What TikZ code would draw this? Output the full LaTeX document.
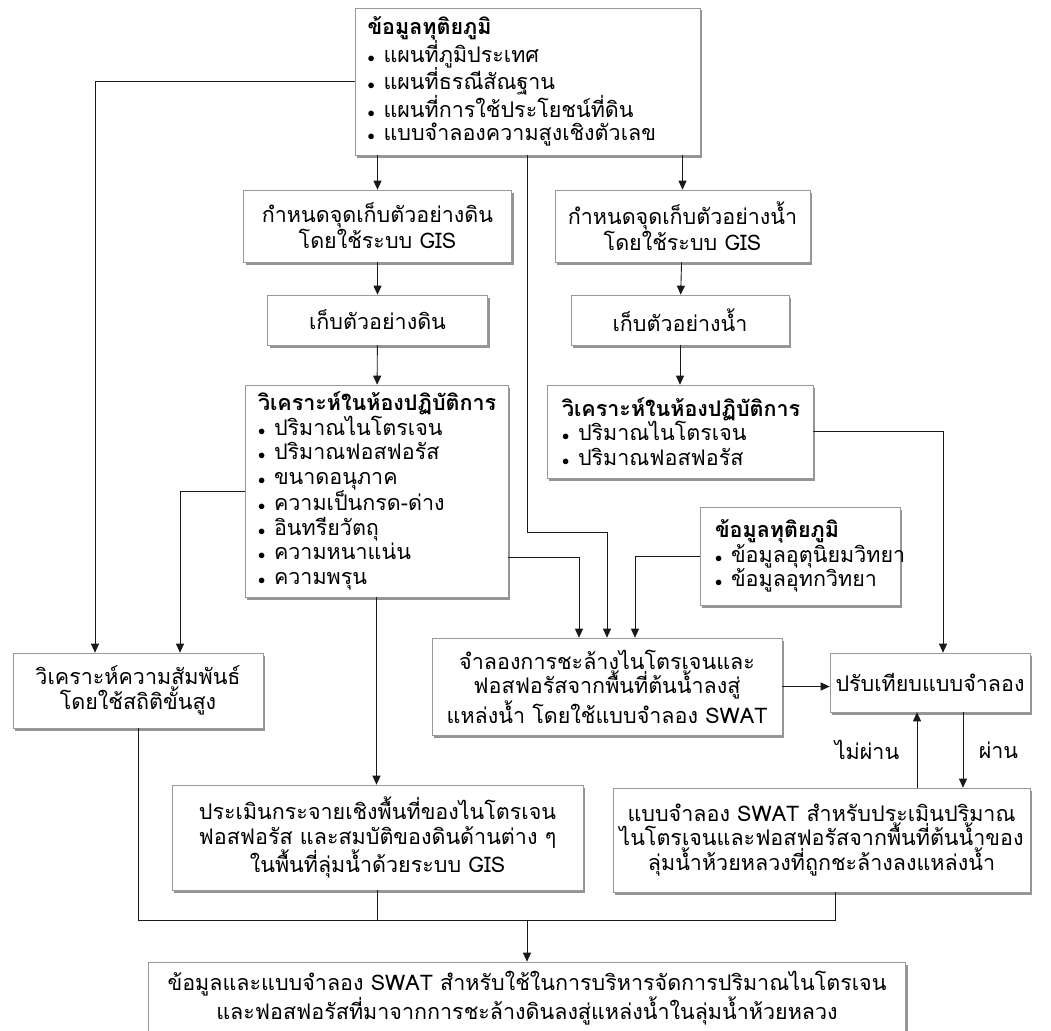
\documentclass[tikz,border=0pt]{standalone}
\usepackage{fontspec}
\newfontfamily\thaifont[Script=Thai]{Loma}
\usepackage{tikz}
\usetikzlibrary{arrows.meta, positioning, shadows}
\newcommand{\bul}{\makebox[16pt][l]{\fontsize{15}{15}\selectfont$\bullet$}}

\begin{document}
\begin{tikzpicture}[x=1pt, y=-1pt,
    box/.style={draw=black!40, fill=white, line width=0.6pt,
      drop shadow={shadow xshift=2pt, shadow yshift=-2.5pt, fill=black!60, opacity=0.7},
      font=\thaifont\fontsize{21.5}{24.5}\selectfont, align=center, inner sep=0pt},
    listbox/.style={box, align=left, inner ysep=0pt},
    wire/.style={draw=black!90, line width=0.9pt},
    arr/.style={wire, -{Triangle[length=9pt, width=8pt]}},
    tag/.style={font=\thaifont\fontsize{21.5}{24}\selectfont}]
  \useasboundingbox (0,0) rectangle (1051,1030);

  \node[listbox, text width=320, inner xsep=12.5, minimum height=147] (top) at (527.5,81.5)
    {{\bfseries ข้อมูลทุติยภูมิ}\\[-1pt]
     \bul แผนที่ภูมิประเทศ\\[-1pt]
     \bul แผนที่ธรณีสัณฐาน\\[-1pt]
     \bul แผนที่การใช้ประโยชน์ที่ดิน\\[-1pt]
     \bul แบบจำลองความสูงเชิงตัวเลข};

  \node[box, minimum width=268, minimum height=72] (soilgis) at (377.5,226)
    {กำหนดจุดเก็บตัวอย่างดิน\\ โดยใช้ระบบ GIS};
  \node[box, minimum width=255, minimum height=72] (watergis) at (682.5,226)
    {กำหนดจุดเก็บตัวอย่างน้ำ\\ โดยใช้ระบบ GIS};
  \node[box, minimum width=220, minimum height=50] (soilcol) at (377.5,320) {เก็บตัวอย่างดิน};
  \node[box, minimum width=218, minimum height=50] (watercol) at (680,320) {เก็บตัวอย่างน้ำ};

  \node[listbox, text width=237, inner xsep=13, minimum height=212] (soillab) at (376.5,491)
    {{\bfseries วิเคราะห์ในห้องปฏิบัติการ}\\
     \bul ปริมาณไนโตรเจน\\
     \bul ปริมาณฟอสฟอรัส\\
     \bul ขนาดอนุภาค\\
     \bul ความเป็นกรด-ด่าง\\
     \bul อินทรียวัตถุ\\
     \bul ความหนาแน่น\\
     \bul ความพรุน};
  \node[listbox, text width=236, inner xsep=15, minimum height=93] (waterlab) at (680,431.5)
    {{\bfseries วิเคราะห์ในห้องปฏิบัติการ}\\
     \bul ปริมาณไนโตรเจน\\
     \bul ปริมาณฟอสฟอรัส};
  \node[listbox, text width=170, inner xsep=15, minimum height=98] (sec) at (800,556)
    {{\bfseries ข้อมูลทุติยภูมิ}\\
     \bul ข้อมูลอุตุนิยมวิทยา\\
     \bul ข้อมูลอุทกวิทยา};

  \node[box, minimum width=250, minimum height=75] (stats) at (138,690.5)
    {วิเคราะห์ความสัมพันธ์\\ โดยใช้สถิติขั้นสูง};
  \node[box, minimum width=350, minimum height=97] (swatsim) at (607,686.5)
    {จำลองการชะล้างไนโตรเจนและ\\ ฟอสฟอรัสจากพื้นที่ต้นน้ำลงสู่\\ แหล่งน้ำ โดยใช้แบบจำลอง SWAT};
  \node[box, minimum width=200, minimum height=59] (calib) at (930,682.5) {ปรับเทียบแบบจำลอง};
  \node[box, minimum width=411, minimum height=105] (distrib) at (377.5,837.5)
    {ประเมินกระจายเชิงพื้นที่ของไนโตรเจน\\ ฟอสฟอรัส และสมบัติของดินด้านต่าง ๆ\\ ในพื้นที่ลุ่มน้ำด้วยระบบ GIS};
  \node[box, minimum width=417, minimum height=104] (swatmodel) at (821.5,840)
    {แบบจำลอง SWAT สำหรับประเมินปริมาณ\\ ไนโตรเจนและฟอสฟอรัสจากพื้นที่ต้นน้ำของ\\ ลุ่มน้ำห้วยหลวงที่ถูกชะล้างลงแหล่งน้ำ};
  \node[box, minimum width=757, minimum height=72] (final) at (527,998)
    {ข้อมูลและแบบจำลอง SWAT สำหรับใช้ในการบริหารจัดการปริมาณไนโตรเจน\\
     และฟอสฟอรัสที่มาจากการชะล้างดินลงสู่แหล่งน้ำในลุ่มน้ำห้วยหลวง};

  \coordinate (mrg) at (527,920);

  \draw[arr] (soilgis.north |- top.south) -- (soilgis.north);
  \draw[arr] (watergis.north |- top.south) -- (watergis.north);
  \draw[arr] (soilgis) -- (soilcol);
  \draw[arr] (soilcol) -- (soillab);
  \draw[arr] (watergis) -- (watercol);
  \draw[arr] (watercol) -- (waterlab);
  \draw[arr] (top.west) -| ([xshift=-43pt]stats.north);
  \draw[arr] (soillab.west) -| ([xshift=42pt]stats.north);
  \draw[arr] (top.south) -- ++(0,377) -| (swatsim.north);
  \draw[arr] ([yshift=-66pt]soillab.east) -| ([xshift=-28pt]swatsim.north);
  \draw[arr] (sec.west) -| ([xshift=28pt]swatsim.north);
  \draw[arr] (waterlab.east) -| ([xshift=13pt]calib.north);
  \draw[arr] (swatsim.east) -- (swatsim.east -| calib.west);
  \draw[arr] (soillab.south) -- (soillab.south |- distrib.north);
  \draw[arr] ([xshift=33pt]calib.south) -- ([xshift=33pt]calib.south |- swatmodel.north)
    node[tag, midway, right=12pt] (pass) {ผ่าน};
  \draw[arr] ([xshift=-13pt]calib.south |- swatmodel.north) -- ([xshift=-13pt]calib.south)
    node[tag, midway, left=14pt] (fail) {ไม่ผ่าน};
  \draw[wire] (stats.south) |- (mrg) -| ([xshift=13.5pt]swatmodel.south);
  \draw[wire] (distrib.south) -- (distrib.south |- mrg);
  \draw[arr] (mrg) -- (final.north);
\end{tikzpicture}
\end{document}
